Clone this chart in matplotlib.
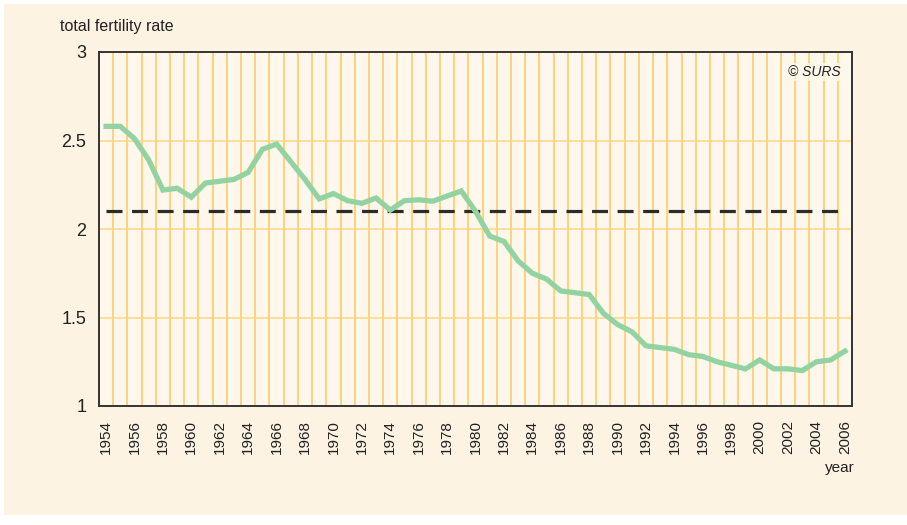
import matplotlib
matplotlib.use("Agg")
import matplotlib.pyplot as plt
from matplotlib.patches import Rectangle
import numpy as np

years = list(range(1954, 2007))
tfr = [2.58, 2.58, 2.51, 2.39, 2.22, 2.23, 2.18, 2.26, 2.27, 2.28,
       2.32, 2.45, 2.48, 2.38, 2.28, 2.17, 2.20, 2.16, 2.145, 2.175,
       2.107, 2.16, 2.165, 2.157, 2.186, 2.215, 2.10, 1.96, 1.93, 1.82,
       1.75, 1.717, 1.65, 1.64, 1.63, 1.524, 1.46, 1.42, 1.34, 1.33,
       1.32, 1.29, 1.28, 1.25, 1.23, 1.21, 1.26, 1.21, 1.21, 1.20,
       1.25, 1.26, 1.31]
replacement_level = 2.1
y_ticks = [1, 1.5, 2, 2.5, 3]
y_ticklabels = ["1", "1.5", "2", "2.5", "3"]
x_ticks = list(range(1954, 2007, 2))

plt.rcParams['font.family'] = ['Liberation Sans', 'DejaVu Sans']

fig = plt.figure(figsize=(9.07, 5.25), dpi=100)
fig.patch.set_facecolor("white")
fig.patches.append(Rectangle((4/907, 10/525), 903/907, 511/525, transform=fig.transFigure,
                             facecolor="#FCF3E3", edgecolor="none", zorder=-10))

ax = fig.add_axes([99/907, 119/525, 753/907, 354/525])
ax.set_facecolor("#FDF7EC")

# grid
for x in np.arange(years[0] + 0.5, years[-1], 1.0):
    ax.axvline(x, color="#FFC85E", lw=1.1, zorder=1)
for y in [1.5, 2, 2.5]:
    ax.axhline(y, color="#FFD88E", lw=1.2, zorder=1)

ax.plot([years[0], years[-1]], [replacement_level, replacement_level], color="#2B2B2B",
        lw=2.3, dashes=(5, 3), zorder=3)
ax.plot(years, tfr, color="#93D3A2", lw=3.8, solid_joinstyle="miter", zorder=4)

ax.set_xlim(years[0] - 0.5, years[-1] + 0.5)
ax.set_ylim(1, 3)
ax.set_yticks(y_ticks)
ax.set_yticklabels(y_ticklabels, fontsize=13, color="#222222")
ax.set_xticks(x_ticks)
ax.set_xticklabels([str(x) for x in x_ticks], rotation=90, fontsize=11, color="#222222")
ax.tick_params(axis="both", length=0)
ax.tick_params(axis="x", pad=10)
ax.tick_params(axis="y", pad=9)
for s in ax.spines.values():
    s.set_color("#333333")
    s.set_linewidth(1.4)

fig.text(60/907, 1 - 27/525, "total fertility rate", fontsize=11.5, color="#222222",
         ha="left", va="center")
fig.text(855/907, 1 - 468/525, "year", fontsize=11, color="#222222", ha="right", va="center")
ax.text(2005.7, 2.885, "© SURS", fontsize=10, style="italic", color="#222222",
        ha="right", va="center", zorder=5,
        bbox=dict(facecolor="#FDF7EC", edgecolor="none", alpha=0.75, pad=1.5))

fig.savefig("out.png", dpi=100, facecolor=fig.get_facecolor())
